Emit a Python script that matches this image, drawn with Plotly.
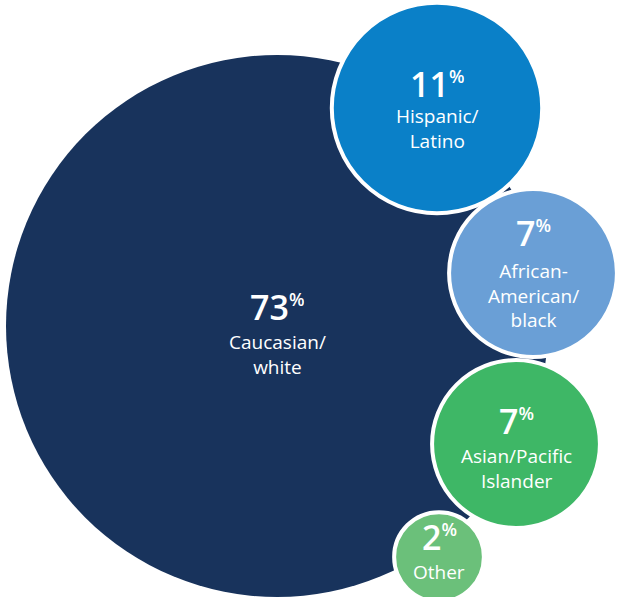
import math
import plotly.graph_objects as go

# Share of each group (percent)
groups = ["Caucasian/<br>white", "Hispanic/<br>Latino", "African-<br>American/<br>black",
          "Asian/Pacific<br>Islander", "Other"]
shares = [73, 11, 7, 7, 2]
colors = ["#18335c", "#0a80c8", "#6a9fd6", "#3eb766", "#6bc07a"]

# Bubble layout (pixel space): centres, number and label offsets
centers = [(277, 326), (437, 108), (533, 273), (516, 444), (439, 557)]
num_dy = [-19, -24, -40, -23, -20]
lab_dy = [28, 20, 22, 24, 15]
R_MAX = 271  # radius of the largest bubble; area is proportional to share

W, H = 624, 597
fig = go.Figure()

shapes = []
annotations = []
for i, (g, s, c) in enumerate(zip(groups, shares, colors)):
    cx, cy = centers[i]
    r = R_MAX * math.sqrt(s / max(shares))
    shapes.append(dict(
        type="circle", xref="x", yref="y",
        x0=cx - r, x1=cx + r, y0=cy - r, y1=cy + r,
        fillcolor=c,
        line=dict(color="white", width=0 if i == 0 else 4),
        layer="above",
    ))
    # percentage, box trimmed to the digit height
    annotations.append(dict(
        x=cx, y=cy + num_dy[i], xref="x", yref="y",
        text=f"{s}<sup><span style='font-size:18px'>%</span></sup>",
        showarrow=False, xanchor="center", yanchor="middle",
        height=30, valign="middle",
        font=dict(family="Open Sans", size=34, color="white", weight=600),
    ))
    # group name
    annotations.append(dict(
        x=cx, y=cy + lab_dy[i], xref="x", yref="y",
        text=g, showarrow=False, xanchor="center", yanchor="middle",
        font=dict(family="Open Sans", size=19, color="white"),
    ))

fig.update_layout(
    width=W, height=H,
    margin=dict(l=0, r=0, t=0, b=0),
    paper_bgcolor="white", plot_bgcolor="white",
    xaxis=dict(range=[0, W], visible=False, fixedrange=True),
    yaxis=dict(range=[H, 0], visible=False, fixedrange=True),
    shapes=shapes, annotations=annotations,
    showlegend=False,
)
fig.write_html("out.html", config={"displayModeBar": False})
